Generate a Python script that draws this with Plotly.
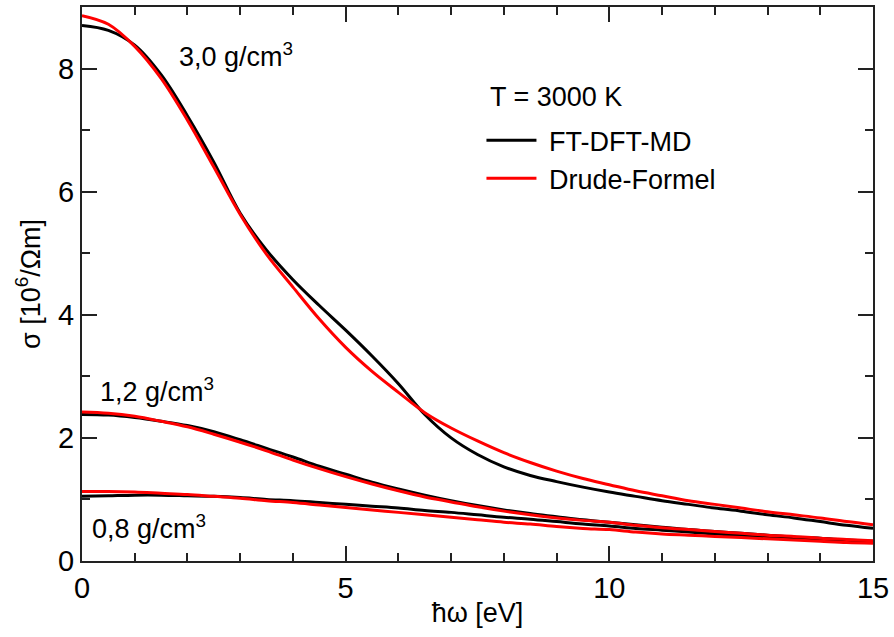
import plotly.graph_objects as go

# photon energy grid (eV)
energy = [0, 0.5, 1, 1.5, 2, 2.5, 3, 3.5, 4, 4.5, 5, 5.5, 6, 6.5, 7, 7.5, 8,
          8.5, 9, 9.5, 10, 10.5, 11, 11.5, 12, 12.5, 13, 13.5, 14, 14.5, 15]

# 3,0 g/cm^3
dft_30 = [8.70, 8.62, 8.38, 7.90, 7.23, 6.48, 5.65, 5.05, 4.57, 4.15, 3.75, 3.33,
          2.88, 2.38, 2.00, 1.73, 1.53, 1.39, 1.29, 1.20, 1.12, 1.05, 0.98, 0.92,
          0.86, 0.81, 0.75, 0.70, 0.64, 0.58, 0.53]
drude_30 = [8.86, 8.72, 8.36, 7.84, 7.16, 6.40, 5.63, 4.98, 4.45, 3.93, 3.47, 3.08,
            2.74, 2.41, 2.16, 1.95, 1.76, 1.60, 1.46, 1.34, 1.24, 1.14, 1.06, 0.98,
            0.92, 0.86, 0.80, 0.75, 0.70, 0.64, 0.59]

# 1,2 g/cm^3
dft_12 = [2.38, 2.37, 2.33, 2.27, 2.20, 2.10, 1.97, 1.83, 1.69, 1.54, 1.41, 1.28,
          1.17, 1.07, 0.98, 0.90, 0.83, 0.77, 0.72, 0.67, 0.63, 0.59, 0.55, 0.51,
          0.48, 0.45, 0.42, 0.39, 0.37, 0.34, 0.32]
drude_12 = [2.42, 2.40, 2.35, 2.27, 2.18, 2.06, 1.93, 1.79, 1.64, 1.50, 1.37, 1.25,
            1.14, 1.04, 0.96, 0.88, 0.81, 0.75, 0.70, 0.66, 0.63, 0.58, 0.54, 0.51,
            0.48, 0.45, 0.42, 0.40, 0.37, 0.35, 0.33]

# 0,8 g/cm^3
dft_08 = [1.05, 1.06, 1.07, 1.07, 1.06, 1.05, 1.03, 1.00, 0.98, 0.95, 0.92, 0.89,
          0.86, 0.82, 0.79, 0.75, 0.71, 0.68, 0.64, 0.60, 0.57, 0.53, 0.50, 0.47,
          0.44, 0.41, 0.38, 0.36, 0.34, 0.32, 0.30]
drude_08 = [1.13, 1.13, 1.12, 1.10, 1.08, 1.05, 1.02, 0.98, 0.95, 0.91, 0.87, 0.83,
            0.79, 0.75, 0.71, 0.67, 0.63, 0.60, 0.56, 0.53, 0.51, 0.47, 0.44, 0.42,
            0.40, 0.38, 0.36, 0.34, 0.32, 0.30, 0.29]

density_labels = ["3,0 g/cm<sup>3</sup>", "1,2 g/cm<sup>3</sup>", "0,8 g/cm<sup>3</sup>"]
label_x = [1.80, 0.30, 0.15]
label_y = [8.22, 2.78, 0.55]

x_ticks = [0, 5, 10, 15]
y_ticks = [0, 2, 4, 6, 8]

FONT = "Liberation Sans, Arial, sans-serif"

fig = go.Figure()
black_sets = [dft_30, dft_12, dft_08]
red_sets = [drude_30, drude_12, drude_08]
for i, ys in enumerate(black_sets):
    fig.add_trace(go.Scatter(x=energy, y=ys, mode="lines", line=dict(color="black", width=3, shape="spline"),
                             name="\u00a0FT-DFT-MD", showlegend=(i == 0), legendgroup="dft"))
for i, ys in enumerate(red_sets):
    fig.add_trace(go.Scatter(x=energy, y=ys, mode="lines", line=dict(color="#ff0000", width=3, shape="spline"),
                             name="\u00a0Drude-Formel", showlegend=(i == 0), legendgroup="drude"))

for t, xx, yy in zip(density_labels, label_x, label_y):
    fig.add_annotation(x=xx, y=yy, text=t, showarrow=False, xanchor="left", yanchor="middle",
                       font=dict(family=FONT, size=27, color="black"))

fig.add_annotation(x=0.513, y=0.838, xref="paper", yref="paper", text="T = 3000 K", showarrow=False,
                   xanchor="left", yanchor="middle", font=dict(family=FONT, size=27, color="black"))

axis_common = dict(showgrid=False, zeroline=False, showline=True, linecolor="#222", linewidth=2,
                   mirror="allticks", ticks="inside", ticklen=15, tickwidth=1.5, tickcolor="#222",
                   tickfont=dict(family=FONT, size=29, color="black"))

fig.update_xaxes(range=[0, 15], tickvals=x_ticks, ticktext=[str(v) for v in x_ticks],
                 title=dict(text="ħω [eV]", font=dict(family=FONT, size=27, color="black"), standoff=0),
                 minor=dict(dtick=1, tick0=0, ticks="inside", ticklen=8, tickwidth=1.5, tickcolor="#222"),
                 **axis_common)
fig.update_yaxes(range=[0, 9], tickvals=y_ticks, ticktext=[str(v) for v in y_ticks],
                 title=dict(text="σ [10<sup>6</sup>/Ωm]", font=dict(family=FONT, size=27, color="black"), standoff=10),
                 minor=dict(dtick=1, tick0=0, ticks="inside", ticklen=8, tickwidth=1.5, tickcolor="#222"),
                 **axis_common)

fig.update_layout(
    width=894, height=637,
    margin=dict(l=82, r=19, t=5, b=76),
    paper_bgcolor="white", plot_bgcolor="white",
    legend=dict(x=0.505, y=0.803, xanchor="left", yanchor="top", bgcolor="rgba(0,0,0,0)",
                font=dict(family=FONT, size=27, color="black"), tracegroupgap=0, itemwidth=50),
    showlegend=True,
)

fig.write_html("out.html")
